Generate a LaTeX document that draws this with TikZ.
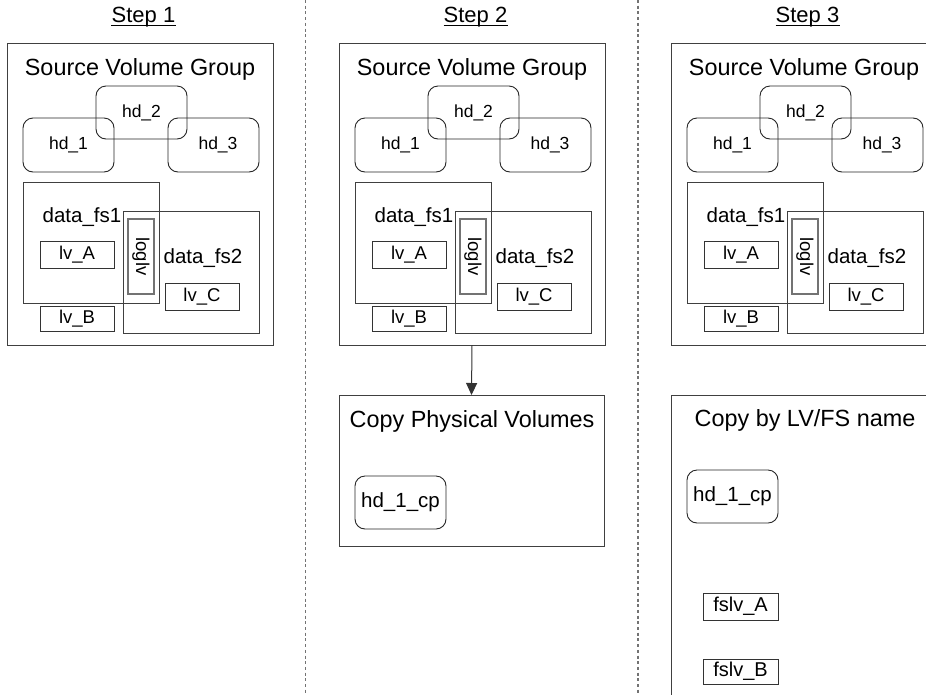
\documentclass[tikz,border=0pt]{standalone}
\usepackage{fontspec}
\setmainfont{Liberation Sans}
\usetikzlibrary{arrows.meta}
\newcommand\bx[7]{\node[#1, minimum width={#4-#2}, minimum height={#5-#3}] (#6) at ({(#2+#4)/2},{(#3+#5)/2}) {#7};}
\newcommand\srcgroup[2]{%
\begin{scope}[xshift=#2pt]
\bx{frame}{7}{43}{273}{345}{#1vg}{}
\node[titletext, anchor=base] (#1vgt) at (140,75) {Source Volume Group};
\bx{hdbox}{96}{86}{187}{139}{#1hdb}{hd\_2}
\bx{hdbox}{23}{118}{114}{172}{#1hda}{hd\_1}
\bx{hdbox}{168}{118}{259}{172}{#1hdc}{\hspace*{9pt}hd\_3}
\bx{frame}{23}{182}{159}{303}{#1fsa}{}
\node[fstext, anchor=base] (#1fsat) at (82,222) {data\_fs1};
\bx{frame}{123}{211}{259}{333}{#1fsb}{}
\node[fstext, anchor=base] (#1fsbt) at (203,263) {data\_fs2};
\bx{logbox}{128}{219}{154}{294}{#1log}{}
\node[lvtext, rotate=-90, inner sep=0] (#1logt) at (141,256.5) {loglv};
\bx{lvbox}{40}{241}{114}{268}{#1lva}{lv\_A}
\bx{lvbox}{165}{283}{239}{310}{#1lvc}{lv\_C}
\bx{lvbox}{40}{306}{114}{331}{#1lvb}{lv\_B}
\end{scope}}
\begin{document}
\begin{tikzpicture}[x=1pt,y=-1pt,
  frame/.style={draw=black!75, line width=0.9pt, inner sep=0, outer sep=0},
  hdbox/.style={draw=black!85, line width=0.9pt, rounded corners=10pt, inner sep=0, outer sep=0, font=\fontsize{17.5}{20}\selectfont},
  cpbox/.style={hdbox, font=\fontsize{20.5}{23}\selectfont},
  lvtext/.style={font=\fontsize{18.5}{20}\selectfont},
  lvbox/.style={draw=black!80, line width=0.9pt, inner sep=0, outer sep=0, lvtext},
  fslvbox/.style={lvbox, font=\fontsize{20}{22}\selectfont},
  logbox/.style={draw=black!55, line width=2pt, inner sep=0, outer sep=0},
  fstext/.style={inner sep=0, font=\fontsize{20.5}{23}\selectfont},
  titletext/.style={inner sep=0, font=\fontsize{23.4}{27}\selectfont},
  steptext/.style={inner sep=0, font=\fontsize{22}{26}\selectfont},
  underl/.style={line width=1pt},
  divider/.style={draw=black!55, line width=1.2pt, dash pattern=on 3pt off 2.7pt},
  arrowline/.style={draw=black!80, line width=1pt, -{Triangle[width=11pt,length=12pt]}}
]
\useasboundingbox (0,0) rectangle (926,694);
\clip (0,0) rectangle (926,694);
\fill[white] (0,0) rectangle (926,694);
% dividers
\coordinate (d1t) at (305.5,0);
\coordinate (d1b) at (305.5,694);
\coordinate (d2t) at (638,0);
\coordinate (d2b) at (638,694);
\draw[divider] (d1t) -- (d1b);
\draw[divider] (d2t) -- (d2b);
% step labels
\node[steptext, anchor=base] (st1) at (143.5,22) {Step 1};
\node[steptext, anchor=base] (st2) at (475.5,22) {Step 2};
\node[steptext, anchor=base] (st3) at (807.5,22) {Step 3};
\foreach \s in {st1,st2,st3}{\draw[underl] ([yshift=-3pt]\s.base west) -- ([yshift=-3pt]\s.base east);}
% source groups
\srcgroup{a}{0}
\srcgroup{b}{332}
\srcgroup{c}{664}
% step 2 copy
\bx{frame}{339}{395}{604}{546}{cp2}{}
\node[titletext, anchor=base] (cp2t) at (472,427) {Copy Physical Volumes};
\bx{cpbox}{355}{476}{446}{529}{cp2hd}{hd\_1\_cp}
\draw[arrowline] (bvg.south) -- (cp2.north);
% step 3 copy
\bx{frame}{671}{395}{950}{720}{cp3}{}
\node[titletext, anchor=base] (cp3t) at (805,426) {Copy by LV/FS name};
\bx{cpbox}{687}{470}{778}{523}{cp3hd}{hd\_1\_cp}
\bx{fslvbox}{703}{593}{778}{620}{cp3fa}{fslv\_A}
\bx{fslvbox}{703}{659}{778}{684}{cp3fb}{fslv\_B}
\end{tikzpicture}
\end{document}
